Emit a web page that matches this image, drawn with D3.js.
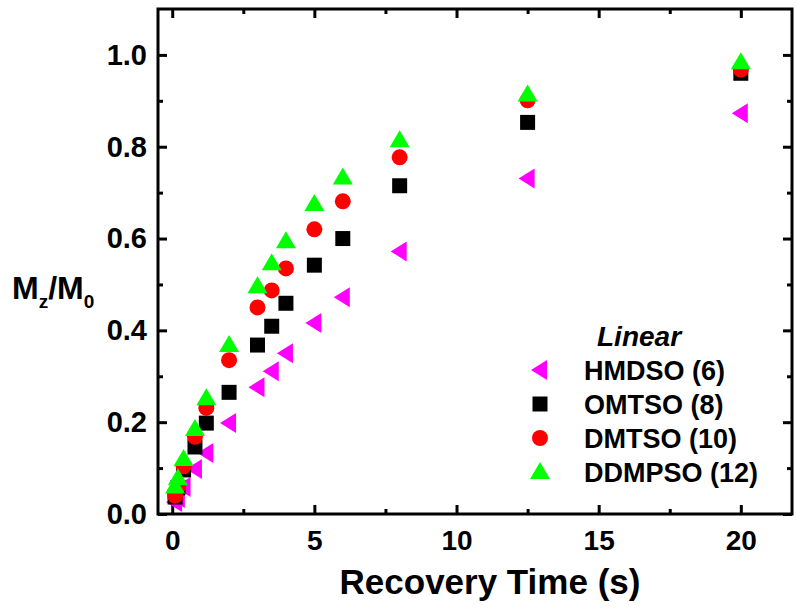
<!DOCTYPE html>
<html>
<head>
<meta charset="utf-8">
<script src="https://cdn.jsdelivr.net/npm/d3@7"></script>
<style>
  body { margin: 0; background: #fff; }
  text { font-family: "Liberation Sans", Arial, sans-serif; font-weight: bold; }
</style>
</head>
<body>
<div id="chart"></div>
<script>
// recovery times (s)
var times = [0.1, 0.2, 0.4, 0.8, 1.2, 2, 3, 3.5, 4, 5, 6, 8, 12.5, 20];

var hmdso  = [0.026, 0.035, 0.059, 0.098, 0.133, 0.198, 0.276, 0.311, 0.350, 0.416, 0.472, 0.572, 0.731, 0.873];
var omtso  = [0.037, 0.057, 0.096, 0.146, 0.198, 0.265, 0.368, 0.409, 0.459, 0.542, 0.600, 0.715, 0.853, 0.960];
var dmtso  = [0.040, 0.060, 0.104, 0.168, 0.231, 0.335, 0.450, 0.487, 0.535, 0.620, 0.681, 0.777, 0.901, 0.968];
var ddmpso = [0.060, 0.078, 0.120, 0.185, 0.252, 0.368, 0.496, 0.546, 0.594, 0.675, 0.733, 0.814, 0.914, 0.984];

var seriesNames = ["HMDSO (6)", "OMTSO (8)", "DMTSO (10)", "DDMPSO (12)"];
var seriesColors = ["#ff00ff", "#000000", "#ff0000", "#00ff00"];
var seriesShapes = ["left", "square", "circle", "up"];

var xTicks = [0, 5, 10, 15, 20];
var yTicks = [0.0, 0.2, 0.4, 0.6, 0.8, 1.0];

var width = 796;
var height = 613;
var plotLeft = 158, plotRight = 792, plotTop = 9, plotBottom = 514;

var svg = d3.select("#chart")
  .append("svg")
  .attr("width", width)
  .attr("height", height);

var x = d3.scaleLinear().domain([-0.5, 21.8]).range([plotLeft, plotRight]);
var y = d3.scaleLinear().domain([0, 1.1]).range([plotBottom, plotTop]);

function marker(shape) {
  if (shape == "circle") {
    return "M8,0A8,8 0 1,1 -8,0A8,8 0 1,1 8,0Z";
  } else if (shape == "square") {
    return "M-7.5,-7.5H7.5V7.5H-7.5Z";
  } else if (shape == "up") {
    return "M0,-10L10,7L-10,7Z";
  }
  return "M-9,0L7,-10L7,10Z";
}

// minor ticks
var xMinor = d3.range(2.5, 21, 5);
var yMinor = d3.range(0.1, 1.1, 0.2);

svg.append("g")
  .attr("transform", "translate(0," + plotBottom + ")")
  .call(d3.axisBottom(x).tickValues(xMinor).tickSize(-5).tickFormat(""));
svg.append("g")
  .attr("transform", "translate(0," + plotTop + ")")
  .call(d3.axisTop(x).tickValues(xMinor).tickSize(-5).tickFormat(""));
svg.append("g")
  .attr("transform", "translate(" + plotLeft + ",0)")
  .call(d3.axisLeft(y).tickValues(yMinor).tickSize(-5).tickFormat(""));
svg.append("g")
  .attr("transform", "translate(" + plotRight + ",0)")
  .call(d3.axisRight(y).tickValues(yMinor).tickSize(-5).tickFormat(""));

// major ticks
svg.append("g")
  .attr("class", "xaxis")
  .attr("transform", "translate(0," + plotBottom + ")")
  .call(d3.axisBottom(x).tickValues(xTicks).tickSize(-9).tickPadding(16).tickFormat(d3.format("d")));
svg.append("g")
  .attr("transform", "translate(0," + plotTop + ")")
  .call(d3.axisTop(x).tickValues(xTicks).tickSize(-9).tickFormat(""));
svg.append("g")
  .attr("class", "yaxis")
  .attr("transform", "translate(" + plotLeft + ",0)")
  .call(d3.axisLeft(y).tickValues(yTicks).tickSize(-9).tickPadding(11).tickFormat(d3.format(".1f")));
svg.append("g")
  .attr("transform", "translate(" + plotRight + ",0)")
  .call(d3.axisRight(y).tickValues(yTicks).tickSize(-9).tickFormat(""));

svg.selectAll(".domain").remove();
svg.selectAll(".tick line").attr("stroke", "#000").attr("stroke-width", 3);
svg.selectAll(".tick text")
  .attr("fill", "#000")
  .style("font-size", "29px")
  .style("font-family", "'Liberation Sans', Arial, sans-serif")
  .style("font-weight", "bold");
svg.selectAll(".xaxis .tick text").style("font-size", "28px");

// frame
svg.append("rect")
  .attr("x", plotLeft)
  .attr("y", plotTop)
  .attr("width", plotRight - plotLeft)
  .attr("height", plotBottom - plotTop)
  .attr("fill", "none")
  .attr("stroke", "#000")
  .attr("stroke-width", 3);

// data
var allSeries = [hmdso, omtso, dmtso, ddmpso];
allSeries.forEach(function(vals, k) {
  svg.append("g").selectAll("path")
    .data(vals)
    .enter()
    .append("path")
    .attr("d", marker(seriesShapes[k]))
    .attr("transform", function(d, i) { return "translate(" + x(times[i]) + "," + y(d) + ")"; })
    .style("fill", seriesColors[k]);
});

// axis titles
svg.append("text")
  .attr("x", 490)
  .attr("y", 594)
  .attr("text-anchor", "middle")
  .style("font-size", "35px")
  .text("Recovery Time (s)");

var yTitle = svg.append("text")
  .attr("x", 12)
  .attr("y", 299)
  .style("font-size", "32px");
yTitle.append("tspan").text("M");
yTitle.append("tspan").attr("dy", 9).style("font-size", "19px").text("z");
yTitle.append("tspan").attr("dy", -9).text("/M");
yTitle.append("tspan").attr("dy", 9).style("font-size", "19px").text("0");

// legend
svg.append("text")
  .attr("x", 597)
  .attr("y", 346)
  .style("font-size", "28px")
  .style("font-style", "italic")
  .text("Linear");

seriesNames.forEach(function(name, k) {
  var ly = 370 + k * 34;
  svg.append("path")
    .attr("d", marker(seriesShapes[k]))
    .attr("transform", "translate(540," + ly + ")")
    .style("fill", seriesColors[k]);
  svg.append("text")
    .attr("x", 584)
    .attr("y", ly + 10)
    .style("font-size", "27px")
    .text(name);
});
</script>
</body>
</html>
